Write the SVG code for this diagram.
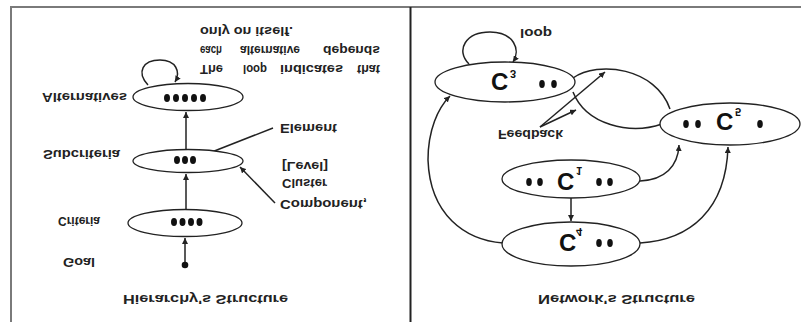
<svg xmlns="http://www.w3.org/2000/svg" width="801" height="322" viewBox="0 0 801 322">
  <style>
    .frame { stroke: #7a7a7a; stroke-width: 2; fill: none; }
    .divider { stroke: #222; stroke-width: 2; fill: none; }
    .node { fill: #fff; stroke: #222; stroke-width: 1.3; }
    .edge { fill: none; stroke: #222; stroke-width: 1.5; }
    .dot { fill: #111; }
    .lbl { font-family: "Liberation Sans", Arial, sans-serif; font-size: 12.5px; font-weight: bold; fill: #222; }
    .big { font-family: "Liberation Sans", Arial, sans-serif; font-size: 24px; font-weight: bold; fill: #111; }
    .idx { font-family: "Liberation Sans", Arial, sans-serif; font-size: 11px; font-weight: bold; fill: #111; }
  </style>
  <defs>
    <marker id="arrow" viewBox="0 0 6 6" refX="6" refY="3" markerWidth="6" markerHeight="6" markerUnits="userSpaceOnUse" orient="auto">
      <path d="M0,0 L6,3 L0,6 z" fill="#222"/>
    </marker>
  </defs>

  <rect width="801" height="322" fill="#fff"/>

  <!-- frame and panel divider -->
  <g id="frame">
    <line class="frame" x1="10" y1="7" x2="801" y2="7"/>
    <line class="frame" x1="11" y1="7" x2="11" y2="322"/>
    <line class="divider" x1="410.5" y1="7" x2="410.5" y2="322"/>
  </g>

  <!-- connectors -->
  <g id="connectors">
    <!-- hierarchy -->
    <path class="edge" d="M148,85 C136,72 143,60 160,60 C176,60 181,72 175,82" marker-end="url(#arrow)"/>
    <path class="edge" d="M186,150 L186,112" marker-end="url(#arrow)"/>
    <path class="edge" d="M186,210 L186,174" marker-end="url(#arrow)"/>
    <path class="edge" d="M185,265 L185,238" marker-end="url(#arrow)"/>
    <circle class="dot" cx="185" cy="265" r="3.3"/>
    <path class="edge" d="M194,159 L273,128"/>
    <path class="edge" d="M275,203 L240,167" marker-end="url(#arrow)"/>
    <!-- network -->
    <path class="edge" d="M469,64 C455,50 466,32 490,32 C514,32 521,50 513,62" marker-end="url(#arrow)"/>
    <path class="edge" d="M573,78 C598,60 656,68 670,109"/>
    <path class="edge" d="M573,92 C586,125 630,135 662,124"/>
    <path class="edge" d="M540,127 L605,72" marker-end="url(#arrow)"/>
    <path class="edge" d="M540,127 L576,110" marker-end="url(#arrow)"/>
    <path class="edge" d="M640,181 C665,180 678,166 679,145" marker-end="url(#arrow)"/>
    <path class="edge" d="M640,243 C690,240 726,210 728,147" marker-end="url(#arrow)"/>
    <path class="edge" d="M503,243 C465,240 430,215 428,160 C428,130 438,108 450,96" marker-end="url(#arrow)"/>
    <path class="edge" d="M571,198 L571,221" marker-end="url(#arrow)"/>
  </g>

  <!-- hierarchy nodes -->
  <g id="alternatives">
    <ellipse class="node" cx="188" cy="97" rx="55" ry="13.5"/>
    <ellipse class="dot" cx="167" cy="98" rx="3" ry="4"/>
    <ellipse class="dot" cx="176" cy="98" rx="3" ry="4"/>
    <ellipse class="dot" cx="185" cy="98" rx="3" ry="4"/>
    <ellipse class="dot" cx="194" cy="98" rx="3" ry="4"/>
    <ellipse class="dot" cx="203" cy="98" rx="3" ry="4"/>
    <text class="lbl" transform="translate(42,93) scale(1,-1)" textLength="85" lengthAdjust="spacingAndGlyphs">Alternatives</text>
  </g>
  <g id="subcriteria">
    <ellipse class="node" cx="188" cy="161" rx="55" ry="11.5"/>
    <ellipse class="dot" cx="177" cy="160" rx="3" ry="4"/>
    <ellipse class="dot" cx="185" cy="160" rx="3" ry="4"/>
    <ellipse class="dot" cx="193" cy="160" rx="3" ry="4"/>
    <text class="lbl" transform="translate(43,150) scale(1,-1)" textLength="77" lengthAdjust="spacingAndGlyphs">Subcriteria</text>
  </g>
  <g id="criteria">
    <ellipse class="node" cx="185" cy="223" rx="57" ry="13.5"/>
    <ellipse class="dot" cx="174" cy="222" rx="3" ry="4"/>
    <ellipse class="dot" cx="182.5" cy="222" rx="3" ry="4"/>
    <ellipse class="dot" cx="191" cy="222" rx="3" ry="4"/>
    <ellipse class="dot" cx="199.5" cy="222" rx="3" ry="4"/>
    <text class="lbl" transform="translate(58,217) scale(1,-1)" textLength="42" lengthAdjust="spacingAndGlyphs">Criteria</text>
  </g>
  <g id="goal">
    <text class="lbl" transform="translate(63,258) scale(1,-1)" textLength="32" lengthAdjust="spacingAndGlyphs">Goal</text>
  </g>
  <g id="hierarchy-notes">
    <text class="lbl" transform="translate(280,124) scale(1,-1)" textLength="57" lengthAdjust="spacingAndGlyphs">Element</text>
    <text class="lbl" transform="translate(282,162) scale(1,-1)" textLength="46" lengthAdjust="spacingAndGlyphs">[Level]</text>
    <text class="lbl" transform="translate(282,179) scale(1,-1)" textLength="45" lengthAdjust="spacingAndGlyphs">Cluster</text>
    <text class="lbl" transform="translate(280,200) scale(1,-1)" textLength="87" lengthAdjust="spacingAndGlyphs">Component,</text>
    <g transform="translate(0,65) scale(1,-1)">
      <text class="lbl" x="200" textLength="23" lengthAdjust="spacingAndGlyphs">The</text>
      <text class="lbl" x="243" textLength="24" lengthAdjust="spacingAndGlyphs">loop</text>
      <text class="lbl" x="280" textLength="63" lengthAdjust="spacingAndGlyphs">indicates</text>
      <text class="lbl" x="357" textLength="23" lengthAdjust="spacingAndGlyphs">that</text>
    </g>
    <g transform="translate(0,46) scale(1,-1)">
      <text class="lbl" x="200" textLength="22" lengthAdjust="spacingAndGlyphs">each</text>
      <text class="lbl" x="240" textLength="60" lengthAdjust="spacingAndGlyphs">alternative</text>
      <text class="lbl" x="323" textLength="57" lengthAdjust="spacingAndGlyphs">depends</text>
    </g>
    <text class="lbl" transform="translate(200,27) scale(1,-1)" textLength="93" lengthAdjust="spacingAndGlyphs">only on itself.</text>
    <text class="lbl" transform="translate(123,295) scale(1,-1)" textLength="165" lengthAdjust="spacingAndGlyphs">Hierarchy's Structure</text>
  </g>

  <!-- network nodes -->
  <g id="c3">
    <ellipse class="node" cx="505" cy="82" rx="70" ry="20"/>
    <text class="big" transform="translate(491,72.5) scale(1,-1)">C</text>
    <text class="idx" transform="translate(510,70) scale(1,-1)">3</text>
    <ellipse class="dot" cx="542" cy="84" rx="2.8" ry="4"/>
    <ellipse class="dot" cx="554" cy="84" rx="2.8" ry="4"/>
  </g>
  <g id="c5">
    <ellipse class="node" cx="730" cy="124" rx="70" ry="21"/>
    <ellipse class="dot" cx="686" cy="124" rx="2.8" ry="4"/>
    <ellipse class="dot" cx="698" cy="124" rx="2.8" ry="4"/>
    <text class="big" transform="translate(716,112.5) scale(1,-1)">C</text>
    <text class="idx" transform="translate(735,108) scale(1,-1)">5</text>
    <ellipse class="dot" cx="760" cy="124" rx="2.8" ry="4"/>
  </g>
  <g id="c1">
    <ellipse class="node" cx="571" cy="179" rx="69" ry="19"/>
    <ellipse class="dot" cx="529" cy="182" rx="2.8" ry="4"/>
    <ellipse class="dot" cx="540" cy="182" rx="2.8" ry="4"/>
    <text class="big" transform="translate(557,172.5) scale(1,-1)">C</text>
    <text class="idx" transform="translate(576,167) scale(1,-1)">1</text>
    <ellipse class="dot" cx="599" cy="182" rx="2.8" ry="4"/>
    <ellipse class="dot" cx="610" cy="182" rx="2.8" ry="4"/>
  </g>
  <g id="c4">
    <ellipse class="node" cx="571" cy="244" rx="69" ry="22"/>
    <text class="big" transform="translate(559,233.5) scale(1,-1)">C</text>
    <text class="idx" transform="translate(576,228) scale(1,-1)">4</text>
    <ellipse class="dot" cx="599" cy="243" rx="2.8" ry="4"/>
    <ellipse class="dot" cx="610" cy="243" rx="2.8" ry="4"/>
  </g>
  <g id="network-notes">
    <text class="lbl" transform="translate(520,29) scale(1,-1)" textLength="32" lengthAdjust="spacingAndGlyphs">loop</text>
    <text class="lbl" transform="translate(498,130) scale(1,-1)" textLength="65" lengthAdjust="spacingAndGlyphs">Feedback</text>
    <text class="lbl" transform="translate(538,295) scale(1,-1)" textLength="157" lengthAdjust="spacingAndGlyphs">Network's Structure</text>
  </g>
</svg>
